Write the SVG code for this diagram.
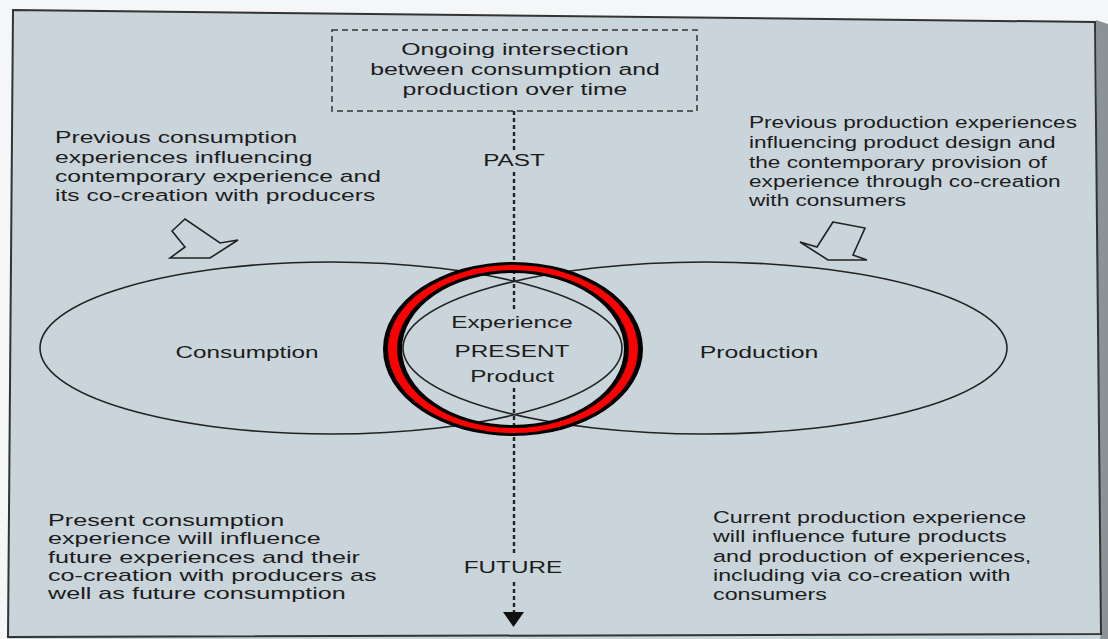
<svg xmlns="http://www.w3.org/2000/svg" width="1108" height="639" viewBox="0 0 1108 639">
<style>
text{font-family:"Liberation Sans",Arial,sans-serif;font-size:17px;fill:#1c1c1c}
.c{text-anchor:middle}
.ln{fill:none;stroke:#222;stroke-width:1.6}
.dash{fill:none;stroke:#222;stroke-width:2.4;stroke-dasharray:4 3}
.hollow{fill:none;stroke:#222;stroke-width:1.6;stroke-linejoin:miter}
</style>
<rect x="0" y="0" width="1108" height="639" fill="#f4f6f7"/>
<polygon points="1096,20 1108,24 1108,639 1100,639" fill="#8b9398"/>
<polygon points="13,10 1095,22 1101,633 1100,639 8,639" fill="#cad4db"/>
<polygon points="13,10 1095,22 1101,634 8,637" fill="none" stroke="#333" stroke-width="2"/>

<g id="connectors">
  <path class="dash" d="M514,111 V150 M514,172 V312 M514,388 V556 M514,582 V613"/>
  <polygon points="503,612 524,612 513.5,627" fill="#111"/>
  <polygon class="hollow" points="172,231 185,219 220,243 238,240 210,258 170,258 185,247"/>
  <polygon class="hollow" points="833,222 865,228 853,255 867,260 828,260 800,242 817,247"/>
</g>

<g id="intersection-box">
  <rect x="332" y="30" width="365" height="81" fill="none" stroke="#333" stroke-width="1.5" stroke-dasharray="6 4"/>
  <g transform="translate(515,0) scale(1.46,1)">
    <text class="c" x="0" y="55">Ongoing intersection</text>
    <text class="c" x="0" y="75">between consumption and</text>
    <text class="c" x="0" y="95">production over time</text>
  </g>
</g>

<g id="past"><text class="c" transform="translate(514,166) scale(1.43,1)">PAST</text></g>
<g id="future"><text class="c" transform="translate(513,573) scale(1.43,1)">FUTURE</text></g>

<g id="prev-consumption">
  <g transform="translate(55,0) scale(1.45,1)">
    <text x="0" y="143">Previous consumption</text>
    <text x="0" y="163">experiences influencing</text>
    <text x="0" y="182">contemporary experience and</text>
    <text x="0" y="201">its co-creation with producers</text>
  </g>
</g>

<g id="prev-production">
  <g transform="translate(749,0) scale(1.33,1)">
    <text x="0" y="128">Previous production experiences</text>
    <text x="0" y="148">influencing product design and</text>
    <text x="0" y="168">the contemporary provision of</text>
    <text x="0" y="187">experience through co-creation</text>
    <text x="0" y="206">with consumers</text>
  </g>
</g>

<g id="consumption">
  <ellipse class="ln" cx="331" cy="348" rx="291" ry="86"/>
  <text class="c" transform="translate(247,358) scale(1.43,1)">Consumption</text>
</g>

<g id="production">
  <ellipse class="ln" cx="705" cy="348" rx="302" ry="86"/>
  <text class="c" transform="translate(759,358) scale(1.46,1)">Production</text>
</g>

<g id="present">
  <path d="M383,349 a130,87 0 1,0 260,0 a130,87 0 1,0 -260,0 Z M402,349 a111,76 0 1,0 222,0 a111,76 0 1,0 -222,0 Z" fill="#000" fill-rule="evenodd"/>
  <path d="M388,349 a125,84 0 1,0 250,0 a125,84 0 1,0 -250,0 Z M397,349 a116,79 0 1,0 232,0 a116,79 0 1,0 -232,0 Z" fill="#f00" fill-rule="evenodd"/>
  <g transform="translate(512,0) scale(1.43,1)">
    <text class="c" x="0" y="328">Experience</text>
    <text class="c" x="0" y="357">PRESENT</text>
    <text class="c" x="0" y="382">Product</text>
  </g>
</g>

<g id="present-consumption">
  <g transform="translate(48,0) scale(1.48,1)">
    <text x="0" y="526">Present consumption</text>
    <text x="0" y="544">experience will influence</text>
    <text x="0" y="563">future experiences and their</text>
    <text x="0" y="581">co-creation with producers as</text>
    <text x="0" y="599">well as future consumption</text>
  </g>
</g>

<g id="current-production">
  <g transform="translate(713,0) scale(1.37,1)">
    <text x="0" y="523">Current production experience</text>
    <text x="0" y="542">will influence future products</text>
    <text x="0" y="562">and production of experiences,</text>
    <text x="0" y="581">including via co-creation with</text>
    <text x="0" y="600">consumers</text>
  </g>
</g>
</svg>
